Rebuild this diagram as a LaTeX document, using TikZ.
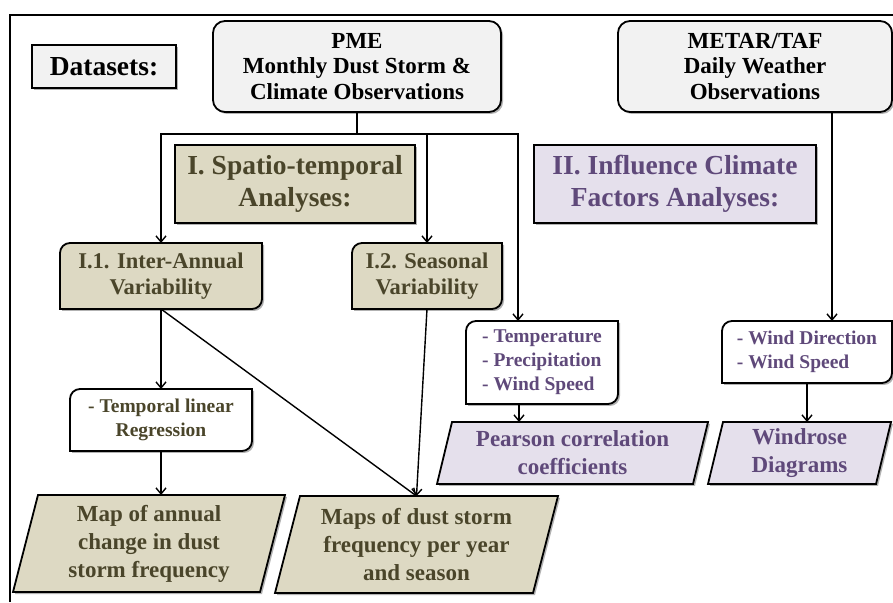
\documentclass[tikz,border=0pt]{standalone}
\usepackage{fontspec}
\setmainfont{Liberation Serif}
\usetikzlibrary{arrows.meta,shadows,backgrounds}
\definecolor{grayfill}{HTML}{F2F2F2}
\definecolor{tanfill}{HTML}{DDD9C3}
\definecolor{olivetxt}{HTML}{4A452A}
\definecolor{lilacfill}{HTML}{E5E0EC}
\definecolor{plumtxt}{HTML}{5F497A}
\tikzset{
  base/.style={inner sep=0pt, outer sep=0pt, align=center},
  shad/.style={drop shadow={shadow xshift=2pt, shadow yshift=-2pt, opacity=.3, fill=black}},
  gbox/.style={base, draw, line width=1.8pt, fill=grayfill, shad},
  titlefont/.style={font=\fontsize{27.5}{31.5}\selectfont\bfseries},
  srcfont/.style={font=\fontsize{23}{25.5}\selectfont\bfseries},
  midfont/.style={font=\fontsize{22.5}{26}\selectfont\bfseries},
  smallfont/.style={font=\fontsize{19.5}{24}\selectfont\bfseries},
  outfont/.style={font=\fontsize{23}{28}\selectfont\bfseries},
  conn/.style={line width=1.4pt, -{Straight Barb[length=6pt,width=10pt,line width=1.4pt]}},
  line/.style={line width=1.4pt}
}
\newcommand{\rdbox}[2]{%
  \fill[black,opacity=.3,transform canvas={xshift=2pt,yshift=-2pt}] (#1.south west) -- ([yshift=-10pt]#1.north west) arc[start angle=180,end angle=90,radius=10pt] -- (#1.north east) -- ([yshift=10pt]#1.south east) arc[start angle=0,end angle=-90,radius=10pt] -- cycle;
  \draw[line width=1.8pt,fill=#2] (#1.south west) -- ([yshift=-10pt]#1.north west) arc[start angle=180,end angle=90,radius=10pt] -- (#1.north east) -- ([yshift=10pt]#1.south east) arc[start angle=0,end angle=-90,radius=10pt] -- cycle;}
\newcommand{\parabox}[3]{%
  \fill[black,opacity=.3,transform canvas={xshift=2pt,yshift=-2pt}] (#1.south west) -- ([xshift=#2]#1.north west) -- (#1.north east) -- ([xshift=-#2]#1.south east) -- cycle;
  \draw[line width=1.8pt,fill=#3] (#1.south west) -- ([xshift=#2]#1.north west) -- (#1.north east) -- ([xshift=-#2]#1.south east) -- cycle;}
\begin{document}
\begin{tikzpicture}[x=1pt,y=1pt]
\useasboundingbox (0,0) rectangle (893,602);
\draw[line width=2pt] (10,0) -- (10,587) -- (893,587);

% dataset boxes
\node[gbox, titlefont, minimum width=144pt, minimum height=43pt] (ds) at (104,535.5) {Datasets:};
\node[gbox, srcfont, rounded corners=12pt, minimum width=288pt, minimum height=91pt] (pme) at (357,535.5) {PME\\Monthly Dust Storm \&\\Climate Observations};
\node[gbox, srcfont, rounded corners=12pt, minimum width=274pt, minimum height=91pt] (metar) at (755,535.5) {METAR/TAF\\Daily Weather\\Observations};

% section headers
\node[base, draw, line width=1.8pt, fill=tanfill, shad, titlefont, text=olivetxt, minimum width=240pt, minimum height=78pt] (sp) at (295,418) {I. Spatio-temporal\\Analyses:};
\node[base, draw, line width=1.8pt, fill=lilacfill, shad, titlefont, text=plumtxt, minimum width=282pt, minimum height=78pt] (inf) at (675,418) {II. Influence Climate\\Factors Analyses:};

% text nodes of shaped boxes
\node[base, midfont, text=olivetxt, minimum width=202pt, minimum height=66pt] (i1) at (161,326) {I.1. Inter-Annual\\Variability};
\node[base, midfont, text=olivetxt, minimum width=150pt, minimum height=66pt] (i2) at (427,326) {I.2. Seasonal\\Variability};
\node[base, smallfont, text=olivetxt, minimum width=182pt, minimum height=62pt] (reg) at (161,182) {- Temporal linear\\Regression};
\node[base, outfont, text=olivetxt, minimum width=272pt, minimum height=97pt] (mapa) at (149,58.5) {Map of annual\\change in dust\\storm frequency};
\node[base, outfont, text=olivetxt, minimum width=283pt, minimum height=97pt] (maps) at (416.5,57.5) {Maps of dust storm\\frequency per year\\and season};
\node[base, smallfont, text=plumtxt, align=left, minimum width=152pt, minimum height=83pt] (temp) at (542,239.5) {- Temperature\\- Precipitation\\- Wind Speed};
\node[base, outfont, text=plumtxt, minimum width=271pt, minimum height=62pt] (pear) at (572.5,149) {Pearson correlation\\coefficients};
\node[base, smallfont, text=plumtxt, align=left, minimum width=170pt, minimum height=62pt] (wind) at (807,250) {- Wind Direction\\- Wind Speed};
\node[base, outfont, text=plumtxt, minimum width=183pt, minimum height=62pt] (rose) at (799.5,149) {Windrose\\Diagrams};

\begin{scope}[on background layer]
  \rdbox{i1}{tanfill}
  \rdbox{i2}{tanfill}
  \rdbox{reg}{white}
  \rdbox{temp}{white}
  \rdbox{wind}{white}
  \parabox{mapa}{25pt}{tanfill}
  \parabox{maps}{25pt}{tanfill}
  \parabox{pear}{15pt}{lilacfill}
  \parabox{rose}{15pt}{lilacfill}
\end{scope}

% connectors
\coordinate (j) at ([yshift=-22pt]pme.south);
\coordinate (ta) at ([xshift=-24pt]temp.north);
\coordinate (tb) at ([xshift=-23pt]temp.south);
\coordinate (wa) at ([xshift=25pt]wind.north);
\draw[line] (pme.south) -- (j);
\draw[conn] (j) -| (i1.north);
\draw[conn] (j) -| (i2.north);
\draw[conn] (j) -| (ta);
\draw[conn] (wa |- metar.south) -- (wa);
\draw[conn] (i1.south) -- (reg.north);
\draw[conn] (reg.south) -- (reg.south |- mapa.north);
\draw[conn] (i1.south) -- (maps.north);
\draw[conn] (i2.south) -- (maps.north);
\draw[conn] (tb) -- (tb |- pear.north);
\draw[conn] (wind.south) -- (wind.south |- rose.north);
\end{tikzpicture}
\end{document}
